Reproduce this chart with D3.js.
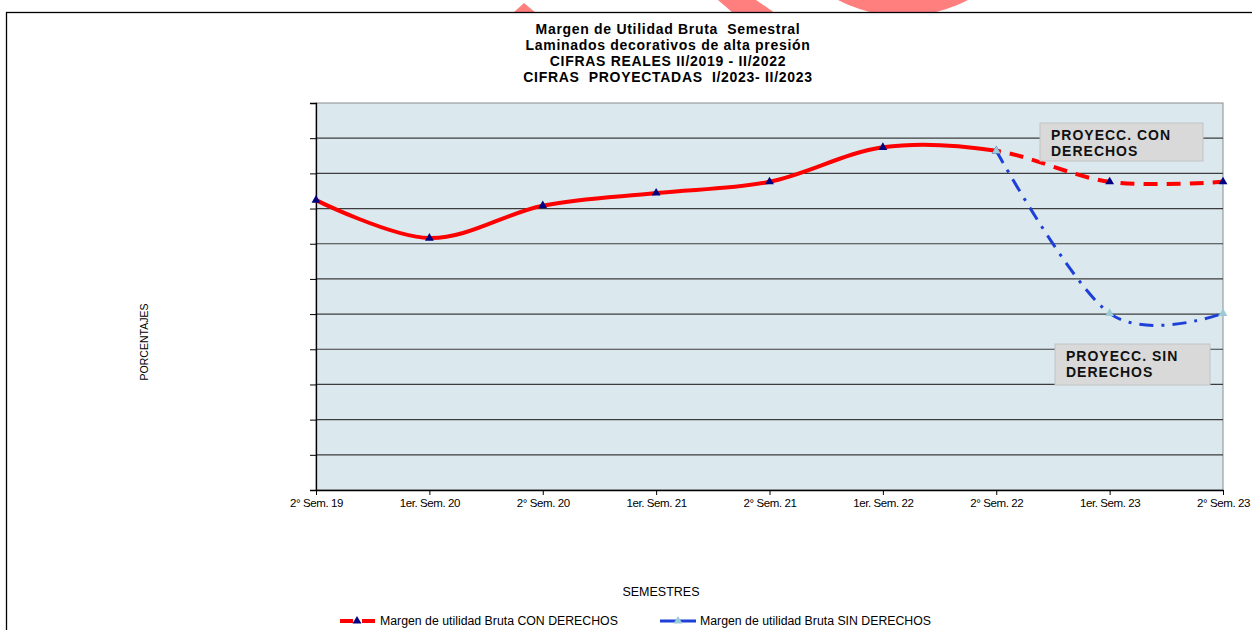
<!DOCTYPE html>
<html>
<head>
<meta charset="utf-8">
<script src="https://cdn.jsdelivr.net/npm/d3@7"></script>
<style>
  body { margin: 0; background: #fff; }
  svg { display: block; }
  text { white-space: pre; }
</style>
</head>
<body>
<div class="box"></div>
<script>
// datos (en %)
const semestres = ['2° Sem. 19', '1er. Sem. 20', '2° Sem. 20', '1er. Sem. 21', '2° Sem. 21',
                   '1er. Sem. 22', '2° Sem. 22', '1er. Sem. 23', '2° Sem. 23'];
const conDerechos = [41.2, 35.8, 40.4, 42.2, 43.8, 48.7, 48.2, 43.8, 43.8];
const sinDerechosSem = ['2° Sem. 22', '1er. Sem. 23', '2° Sem. 23'];
const sinDerechos = [48.2, 25.1, 25.1];
const yTicks = [0, 5, 10, 15, 20, 25, 30, 35, 40, 45, 50, 55];
const inicioProyeccion = '2° Sem. 22';

const titulo = ['Margen de Utilidad Bruta  Semestral',
                'Laminados decorativos de alta presión',
                'CIFRAS REALES II/2019 - II/2022',
                'CIFRAS  PROYECTADAS  I/2023- II/2023'];

const dims = {width: 1252, height: 630};
const plot = {left: 316, right: 1223, top: 103, bottom: 490};

const svg = d3.select('.box')
              .append('svg')
              .attr('width', dims.width)
              .attr('height', dims.height)
              .style('font-family', 'Liberation Sans, Arial, sans-serif');

//////////////////marca de agua (arriba)///////////////////////
const marca = svg.append('g').attr('clip-path', 'url(#clipMarca)');
svg.append('clipPath').attr('id', 'clipMarca')
   .append('rect').attr('x', 0).attr('y', 0).attr('width', dims.width).attr('height', 12);
marca.append('path').attr('d', 'M524,3 L536,13 L513,13 Z').attr('fill', '#ff7f7f');
marca.append('path').attr('d', 'M718,0 L756,0 L775,13 L733,13 Z').attr('fill', '#ff7f7f');
marca.append('circle').attr('cx', 903).attr('cy', -124).attr('r', 140).attr('fill', '#ff7f7f');

// marco exterior
svg.append('rect')
   .attr('x', 6.5).attr('y', 12.5)
   .attr('width', 1400).attr('height', 800)
   .attr('fill', 'none')
   .attr('stroke', '#000')
   .attr('stroke-width', 1.3);

//////////////////titulo///////////////////////
svg.append('g')
   .selectAll('text')
   .data(titulo)
   .enter()
   .append('text')
   .attr('x', 668)
   .attr('y', (d, i) => 34 + i * 16)
   .attr('text-anchor', 'middle')
   .style('font-family', 'Liberation Sans, Arial, sans-serif')
   .style('font-weight', 700)
   .style('font-size', '14px')
   .style('letter-spacing', '0.7px')
   .text(d => d);

//////////////////escalas///////////////////////
const x = d3.scalePoint()
            .domain(semestres)
            .range([plot.left, plot.right]);

const y = d3.scaleLinear()
            .domain([0, 55])
            .range([plot.bottom, plot.top]);

// fondo del area
svg.append('rect')
   .attr('x', plot.left).attr('y', plot.top)
   .attr('width', plot.right - plot.left)
   .attr('height', plot.bottom - plot.top)
   .attr('fill', '#dbe9ef')
   .attr('stroke', '#8c8c8c');

// lineas de division
svg.append('g')
   .selectAll('line')
   .data(yTicks.slice(1, -1))
   .enter()
   .append('line')
   .attr('x1', plot.left).attr('x2', plot.right)
   .attr('y1', d => y(d)).attr('y2', d => y(d))
   .attr('stroke', '#3c3c3c')
   .attr('stroke-width', 1.2);

//////////////////ejes///////////////////////
const ejeY = svg.append('g')
                .attr('transform', `translate(${plot.left}, 0)`)
                .call(d3.axisLeft(y).tickValues(yTicks).tickSize(6).tickFormat(''));
ejeY.select('.domain').attr('stroke', '#000').attr('stroke-width', 1.3);
ejeY.selectAll('.tick line').attr('stroke', '#000');

const ejeX = svg.append('g')
                .attr('transform', `translate(0, ${plot.bottom})`)
                .call(d3.axisBottom(x).tickSize(5).tickSizeOuter(0).tickPadding(4));
ejeX.select('.domain').attr('stroke', '#000').attr('stroke-width', 1.3);
ejeX.selectAll('.tick line').attr('stroke', '#000');
ejeX.selectAll('text')
    .attr('fill', '#000')
    .style('font-family', 'Liberation Sans, Arial, sans-serif')
    .style('font-size', '11.5px')
    .style('letter-spacing', '-0.4px');

// titulos de ejes
svg.append('text')
   .attr('transform', 'translate(148, 342) rotate(-90)')
   .attr('text-anchor', 'middle')
   .style('font-size', '10.5px')
   .text('PORCENTAJES');

svg.append('text')
   .attr('x', 661).attr('y', 596)
   .attr('text-anchor', 'middle')
   .style('font-size', '12.5px')
   .text('SEMESTRES');

//////////////////series///////////////////////
const linea = d3.line()
                .x(d => x(d.sem))
                .y(d => y(d.val))
                .curve(d3.curveCardinal.tension(0));

const datosCon = semestres.map((s, i) => ({sem: s, val: conDerechos[i]}));
const datosSin = sinDerechosSem.map((s, i) => ({sem: s, val: sinDerechos[i]}));

const xCorte = x(inicioProyeccion);
svg.append('clipPath').attr('id', 'clipReal')
   .append('rect').attr('x', 0).attr('y', 0).attr('width', xCorte).attr('height', dims.height);
svg.append('clipPath').attr('id', 'clipProy')
   .append('rect').attr('x', xCorte).attr('y', 0).attr('width', dims.width).attr('height', dims.height);

svg.append('path')
   .datum(datosCon)
   .attr('d', linea)
   .attr('clip-path', 'url(#clipReal)')
   .attr('fill', 'none')
   .attr('stroke', '#ff0000')
   .attr('stroke-width', 4);

svg.append('path')
   .datum(datosCon)
   .attr('d', linea)
   .attr('clip-path', 'url(#clipProy)')
   .attr('fill', 'none')
   .attr('stroke', '#ff0000')
   .attr('stroke-width', 4)
   .attr('stroke-dasharray', '14 9');

svg.append('path')
   .datum(datosSin)
   .attr('d', linea)
   .attr('fill', 'none')
   .attr('stroke', '#1f40d8')
   .attr('stroke-width', 3)
   .attr('stroke-dasharray', '14 8 3 8');

const triangulo = d3.symbol().type(d3.symbolTriangle).size(34);

svg.append('g')
   .selectAll('path')
   .data(datosCon)
   .enter()
   .append('path')
   .attr('d', triangulo)
   .attr('transform', d => `translate(${x(d.sem)}, ${y(d.val)})`)
   .attr('fill', '#000080');

svg.append('g')
   .selectAll('path')
   .data(datosSin)
   .enter()
   .append('path')
   .attr('d', triangulo)
   .attr('transform', d => `translate(${x(d.sem)}, ${y(d.val)})`)
   .attr('fill', '#9ccbd6');

//////////////////notas de proyeccion///////////////////////
const notas = [
    {x: 1040, y: 123, w: 163, h: 38, lineas: ['PROYECC. CON', 'DERECHOS']},
    {x: 1055, y: 344, w: 155, h: 41, lineas: ['PROYECC. SIN', 'DERECHOS']}
];

const gNotas = svg.append('g')
                  .selectAll('g')
                  .data(notas)
                  .enter()
                  .append('g');

gNotas.append('rect')
      .attr('x', d => d.x).attr('y', d => d.y)
      .attr('width', d => d.w).attr('height', d => d.h)
      .attr('fill', '#d9d9d9')
      .attr('stroke', '#c4c4c4');

gNotas.selectAll('text')
      .data(d => d.lineas.map((l, i) => ({l, i, d})))
      .enter()
      .append('text')
      .style('font-family', 'Liberation Sans, Arial, sans-serif')
      .style('font-weight', 700)
      .style('font-size', '14px')
      .style('letter-spacing', '1px')
      .attr('fill', '#111')
      .attr('x', t => t.d.x + 11)
      .attr('y', t => t.d.y + 17 + t.i * 16)
      .text(t => t.l);

//////////////////leyenda///////////////////////
const ley = svg.append('g').style('font-size', '12.3px');

ley.append('line').attr('x1', 340).attr('x2', 353).attr('y1', 621).attr('y2', 621)
   .attr('stroke', '#ff0000').attr('stroke-width', 4);
ley.append('line').attr('x1', 362).attr('x2', 375).attr('y1', 621).attr('y2', 621)
   .attr('stroke', '#ff0000').attr('stroke-width', 4);
ley.append('path').attr('d', triangulo).attr('transform', 'translate(357, 621)').attr('fill', '#000080');
ley.append('text').attr('x', 380).attr('y', 625).text('Margen de utilidad Bruta CON DERECHOS');

ley.append('line').attr('x1', 660).attr('x2', 696).attr('y1', 621).attr('y2', 621)
   .attr('stroke', '#1f40d8').attr('stroke-width', 3);
ley.append('path').attr('d', triangulo).attr('transform', 'translate(678, 621)').attr('fill', '#9ccbd6');
ley.append('text').attr('x', 700).attr('y', 625).text('Margen de utilidad Bruta SIN DERECHOS');
</script>
</body>
</html>
